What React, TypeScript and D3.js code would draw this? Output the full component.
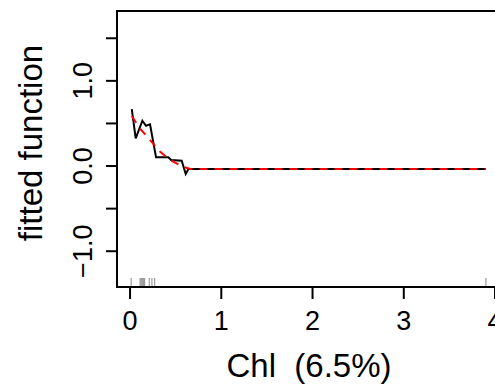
import React from "react";
import * as d3 from "d3";

// partial dependence of fitted function on Chl
const fitX = [0.019, 0.062, 0.135, 0.175, 0.219, 0.285, 0.42, 0.45, 0.566, 0.61, 0.64, 3.9];
const fitY = [0.669, 0.325, 0.532, 0.473, 0.489, 0.102, 0.102, 0.07, 0.062, -0.094, -0.035, -0.035];

// smoothed fit (red dashed)
const smoothX = [0.019, 0.11, 0.22, 0.33, 0.44, 0.58, 0.66, 3.9];
const smoothY = [0.587, 0.44, 0.305, 0.168, 0.07, -0.008, -0.035, -0.035];

// decile rug
const rugX = [0.012, 0.11, 0.12, 0.13, 0.14, 0.15, 0.16, 0.21, 0.24, 0.27, 3.9];

const xTicks = [0, 1, 2, 3, 4];
const yTicks = [-1, -0.5, 0, 0.5, 1, 1.5];
const yLabels = [-1, 0, 1];

const width = 495;
const height = 385;
const font = "'Liberation Sans', Arial, sans-serif";

const App: React.FC = () => {
    const x = d3.scaleLinear().domain([-0.143, 4.06]).range([117, 500.5]);
    const y = d3.scaleLinear().domain([-1.42, 1.82]).range([287, 11]);

    const line = d3
        .line<[number, number]>()
        .x((d) => x(d[0]))
        .y((d) => y(d[1]));

    const fitPts = fitX.map((v, i) => [v, fitY[i]] as [number, number]);
    const smoothPts = smoothX.map((v, i) => [v, smoothY[i]] as [number, number]);

    const [x0, x1] = x.range();
    const [yb, yt] = y.range();

    return (
        <div style={{ position: "fixed", top: 0, left: 0, background: "#fff" }}>
            <svg width={width} height={height} style={{ display: "block" }}>
                <rect x={0} y={0} width={width} height={height} fill="#fff" />

                {/* rug */}
                {rugX.map((v, i) => (
                    <line key={"r" + i} x1={x(v)} x2={x(v)} y1={yb} y2={yb - 9}
                        stroke="#8a8a8a" strokeWidth={1} />
                ))}

                {/* fitted line */}
                <path d={line(fitPts) ?? ""} fill="none" stroke="#000" strokeWidth={2} strokeLinejoin="miter" />
                <path d={line(smoothPts) ?? ""} fill="none" stroke="#ff0000" strokeWidth={2} strokeDasharray="8,7" />

                {/* box */}
                <rect x={x0} y={yt} width={x1 - x0} height={yb - yt} fill="none" stroke="#000" strokeWidth={2} />

                {/* x axis */}
                {xTicks.map((t) => (
                    <g key={"x" + t}>
                        <line x1={x(t)} x2={x(t)} y1={yb} y2={yb + 12} stroke="#000" strokeWidth={2} />
                        <text x={x(t)} y={330} textAnchor="middle" fontFamily={font} fontSize={27}>{t}</text>
                    </g>
                ))}
                <text x={309} y={377} textAnchor="middle" fontFamily={font} fontSize={33}
                    style={{ whiteSpace: "pre" }}>{"Chl  (6.5%)"}</text>

                {/* y axis */}
                {yTicks.map((t) => (
                    <line key={"y" + t} x1={x0 - 11} x2={x0} y1={y(t)} y2={y(t)} stroke="#000" strokeWidth={2} />
                ))}
                {yLabels.map((t) => (
                    <text key={"yl" + t} transform={`translate(92,${y(t)}) rotate(-90)`} textAnchor="middle"
                        fontFamily={font} fontSize={27}>{d3.format(".1f")(t)}</text>
                ))}
                <text transform="translate(42,143) rotate(-90)" textAnchor="middle" fontFamily={font} fontSize={33}>
                    fitted function
                </text>
            </svg>
        </div>
    );
};

export default App;
